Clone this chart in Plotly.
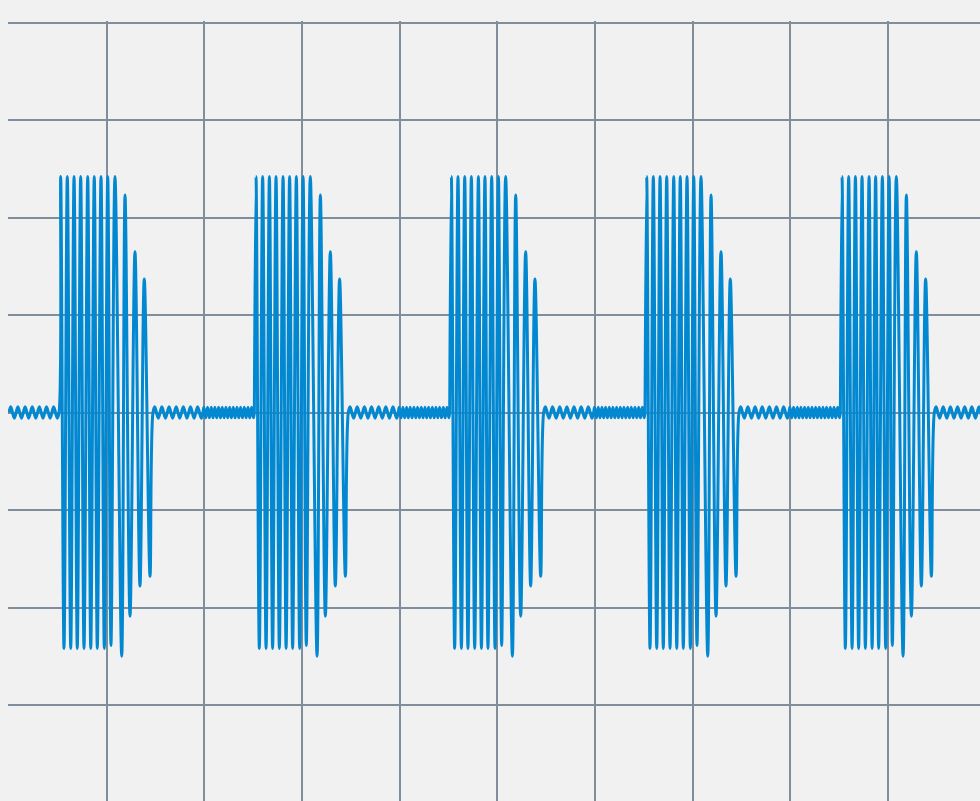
import plotly.graph_objects as go

# ---- data (x in grid units, y in grid units) ----
# onset time of each burst
burst_onsets = [0.512, 2.512, 4.512, 6.512, 8.512]
# burst extrema: time offset from onset, value
burst_dt = [0.017, 0.051, 0.085, 0.120, 0.154, 0.187, 0.222, 0.256, 0.294, 0.325,
            0.361, 0.392, 0.430, 0.464, 0.499, 0.532, 0.573, 0.642, 0.676, 0.727,
            0.778, 0.829, 0.873, 0.932]
burst_v = [2.42, -2.42, 2.42, -2.42, 2.42, -2.42, 2.42, -2.42, 2.42, -2.42,
           2.42, -2.42, 2.42, -2.42, 2.42, -2.39, 2.42, -2.50, 2.23, -2.09,
           1.65, -1.78, 1.37, -1.68]
burst_len = 0.962
# slow low-level ripple segment (after each burst and at the start)
sparse_dt = [0.018, 0.055, 0.091, 0.128, 0.165, 0.201, 0.238, 0.274, 0.311, 0.348,
             0.384, 0.421, 0.457, 0.494]
sparse_v = [0.058, -0.058, 0.058, -0.058, 0.058, -0.058, 0.058, -0.058, 0.058, -0.058,
            0.058, -0.058, 0.058, -0.058]
sparse_len = 0.512
# fast low-level ripple segment (before each following burst)
dense_dt = [0.009, 0.028, 0.047, 0.066, 0.085, 0.103, 0.122, 0.141, 0.160, 0.179,
            0.197, 0.216, 0.235, 0.254, 0.273, 0.291, 0.310, 0.329, 0.348, 0.367,
            0.385, 0.404, 0.423, 0.442, 0.461, 0.479, 0.498, 0.517]
dense_v = [0.055, -0.055, 0.055, -0.055, 0.055, -0.055, 0.055, -0.055, 0.055, -0.055,
           0.055, -0.055, 0.055, -0.055, 0.055, -0.055, 0.055, -0.055, 0.055, -0.055,
           0.055, -0.055, 0.055, -0.055, 0.055, -0.055, 0.055, -0.055]
dense_len = 0.526

# ---- assemble the trace ----
t = [0.0]
y = [0.0]
for dt, v in zip(sparse_dt, sparse_v):
    t.append(dt); y.append(v)
for on in burst_onsets:
    t.append(on); y.append(0.0)
    for dt, v in zip(burst_dt, burst_v):
        t.append(on + dt); y.append(v)
    s0 = on + burst_len
    t.append(s0); y.append(0.0)
    for dt, v in zip(sparse_dt, sparse_v):
        t.append(s0 + dt); y.append(v)
    d0 = s0 + sparse_len
    t.append(d0); y.append(0.0)
    for dt, v in zip(dense_dt, dense_v):
        t.append(d0 + dt); y.append(v)
    t.append(d0 + dense_len); y.append(0.0)

GRID_PX_X = 97.67
GRID_PX_Y = 97.5
W, H = 980, 801
ML, MT = 8, 21
x0 = -1.0 / GRID_PX_X
x1 = x0 + (W - ML) / GRID_PX_X
ytop = 4 + 1.5 / GRID_PX_Y
ybot = ytop - (H - MT) / GRID_PX_Y

fig = go.Figure(go.Scatter(
    x=t, y=y, mode="lines",
    line=dict(color="#0288d1", width=3, shape="spline", smoothing=1, simplify=False),
    hoverinfo="skip",
))
fig.update_layout(
    width=W, height=H,
    margin=dict(l=ML, t=MT, r=0, b=0, pad=0),
    paper_bgcolor="#f1f1f1", plot_bgcolor="#f1f1f1",
    showlegend=False,
)
fig.update_xaxes(range=[x0, x1], dtick=1, tick0=0, showgrid=True,
                 gridcolor="#808d9b", gridwidth=2, zeroline=False,
                 showticklabels=False, showline=False, ticks="")
fig.update_yaxes(range=[ybot, ytop], dtick=1, tick0=0, showgrid=True,
                 gridcolor="#808d9b", gridwidth=2, zeroline=False,
                 showticklabels=False, showline=False, ticks="")

fig.write_html(
    "out.html",
    config={"displayModeBar": False, "staticPlot": True},
    post_script="document.body.style.margin='0';document.body.style.background='#f1f1f1';document.body.style.overflow='hidden';",
)
